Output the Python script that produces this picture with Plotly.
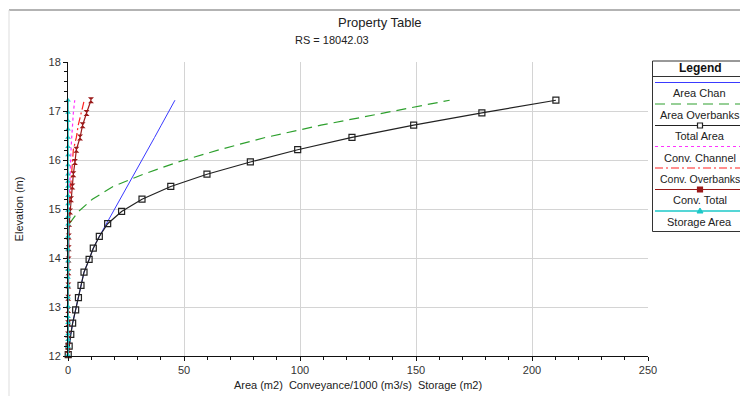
import plotly.graph_objects as go

# ---- data ----
elev = [12.03, 12.2, 12.44, 12.67, 12.94, 13.19, 13.44, 13.71, 13.97, 14.2, 14.44,
        14.7, 14.95, 15.2, 15.46, 15.71, 15.96, 16.21, 16.46, 16.71, 16.96, 17.22]
total_area = [0.1, 0.5, 1.2, 2.0, 3.3, 4.5, 5.6, 6.9, 9.1, 10.9, 13.5,
              17.1, 23.1, 31.9, 44.3, 59.9, 78.6, 99.0, 122.4, 149.0, 178.4, 210.3]
area_chan = [0.1, 0.5, 1.2, 2.0, 3.3, 4.5, 5.6, 6.9, 9.1, 10.9, 13.5,
             16.6, 19.6, 22.5, 25.5, 28.5, 31.4, 34.3, 37.3, 40.2, 43.1, 46.1]
elev_ob = [14.7, 14.95, 15.2, 15.46, 15.71, 15.96, 16.21, 16.46, 16.71, 16.96, 17.22]
area_overbanks = [0.6, 4.5, 10.5, 19.5, 32.5, 47.5, 65.2, 85.1, 109.0, 136.0, 164.5]
conv_channel = [0.0, 0.01, 0.03, 0.05, 0.08, 0.1, 0.15, 0.2, 0.25, 0.3, 0.35,
                0.4, 0.45, 0.55, 0.7, 0.9, 1.1, 1.3, 1.6, 1.9, 2.3, 2.9]
elev_cob = [14.44, 14.7, 14.95, 15.2, 15.46, 15.71, 15.96, 16.21, 16.46, 16.71, 16.96, 17.22]
conv_overbanks = [0.0, 0.1, 0.4, 0.75, 1.2, 1.4, 1.9, 2.3, 3.6, 4.4, 5.7, 7.0]
conv_total = [0.0, 0.01, 0.03, 0.05, 0.08, 0.1, 0.15, 0.2, 0.25, 0.3, 0.35,
              0.5, 0.9, 1.3, 1.9, 2.3, 3.0, 3.6, 5.2, 6.3, 8.0, 9.9]
elev_storage = [12.02, 12.19, 12.33, 12.45, 12.68, 12.80, 13.01, 13.20, 13.43, 13.60,
                13.76, 13.94, 14.18, 14.44, 14.69, 14.84, 14.97, 15.10, 15.27, 15.46,
                15.56, 15.71, 15.90, 16.10, 16.27, 16.46, 16.63, 16.80, 16.97, 17.22]
storage_area = [0.0] * len(elev_storage)

series_names = ["Area Chan", "Area Overbanks", "Total Area", "Conv. Channel",
                "Conv. Overbanks", "Conv. Total", "Storage Area"]

FONT = "Arial, Liberation Sans, sans-serif"
W, H = 740, 396
ML, MR, MT, MB = 68, 92, 62, 40
PW, PH = W - ML - MR, H - MT - MB

C_BLUE = "#3a3aff"
C_GREEN = "#2ea02e"
C_BLACK = "#222222"
C_MAG = "#ff33ff"
C_RED = "#ff2020"
C_DRED = "#9a1a1a"
C_CYAN = "#1cc8c8"

styles = {
    "Area Chan": dict(line=dict(color=C_BLUE, width=1), mode="lines"),
    "Area Overbanks": dict(line=dict(color=C_GREEN, width=1.2, dash="10px,6px"), mode="lines"),
    "Total Area": dict(line=dict(color=C_BLACK, width=1.2), mode="lines+markers",
                       marker=dict(symbol="square-open", size=6, color=C_BLACK, line=dict(width=1.2))),
    "Conv. Channel": dict(line=dict(color=C_MAG, width=1.2, dash="3px,3px"), mode="lines"),
    "Conv. Overbanks": dict(line=dict(color=C_RED, width=1.2, dash="8px,3px,2px,3px"), mode="lines"),
    "Conv. Total": dict(line=dict(color=C_DRED, width=1.2), mode="lines+markers",
                        marker=dict(symbol="hourglass", size=6, color=C_DRED)),
    "Storage Area": dict(line=dict(color=C_CYAN, width=1.5), mode="lines+markers",
                         marker=dict(symbol="triangle-up", size=5, color=C_CYAN)),
}

fig = go.Figure()
data = [
    ("Area Chan", area_chan, elev),
    ("Area Overbanks", area_overbanks, elev_ob),
    ("Total Area", total_area, elev),
    ("Conv. Channel", conv_channel, elev),
    ("Conv. Overbanks", conv_overbanks, elev_cob),
    ("Conv. Total", conv_total, elev),
    ("Storage Area", storage_area, elev_storage),
]
order = ["Area Overbanks", "Area Chan", "Total Area", "Conv. Channel",
         "Conv. Overbanks", "Conv. Total", "Storage Area"]
dd = {n: (x, y) for n, x, y in data}
for n in order:
    x, y = dd[n]
    fig.add_trace(go.Scatter(x=x, y=y, name=n, showlegend=False, cliponaxis=False, **styles[n]))

def px(xp):
    return (xp - ML) / PW

def py(yp):
    return (H - MB - yp) / PH

shapes = []
annotations = []
# outer frame lines
shapes.append(dict(type="line", xref="paper", yref="paper", x0=px(9), x1=px(745), y0=py(10), y1=py(10),
                   line=dict(color="#9a9a9a", width=1.5)))
shapes.append(dict(type="line", xref="paper", yref="paper", x0=px(9), x1=px(9), y0=py(10), y1=py(400),
                   line=dict(color="#dddddd", width=1)))

# legend box
LX0, LX1, LY0, LY1 = 652.5, 760, 61, 231.5
shapes.append(dict(type="rect", xref="paper", yref="paper", x0=px(LX0), x1=px(LX1), y0=py(LY0), y1=py(LY1),
                   line=dict(color="#333333", width=1), fillcolor="white"))
shapes.append(dict(type="line", xref="paper", yref="paper", x0=px(LX0), x1=px(LX1), y0=py(76.5), y1=py(76.5),
                   line=dict(color="#333333", width=1)))
annotations.append(dict(xref="paper", yref="paper", x=px(700), y=py(68.5), text="<b>Legend</b>",
                        showarrow=False, font=dict(family=FONT, size=12, color="#111111"),
                        xanchor="center", yanchor="middle"))
line_y = [82.5, 104, 125.5, 146.5, 168, 189.5, 211]
text_y = [93.5, 114.5, 135.5, 157.5, 178.5, 199.5, 221.5]
for i, n in enumerate(series_names):
    st = styles[n]
    ln = dict(st["line"])
    shapes.append(dict(type="line", xref="paper", yref="paper", x0=px(655), x1=px(745),
                       y0=py(line_y[i]), y1=py(line_y[i]),
                       line=dict(color=ln["color"], width=ln.get("width", 1), dash=ln.get("dash", "solid"))))
    fs = 10.5 if len(n) > 14 else 11
    annotations.append(dict(xref="paper", yref="paper", x=px(699.5), y=py(text_y[i]), text=n,
                            showarrow=False, font=dict(family=FONT, size=fs, color="#222222"),
                            xanchor="center", yanchor="middle"))

# legend marker glyphs
def rect_px(cx, cy, half, line_color, fill):
    shapes.append(dict(type="rect", xref="paper", yref="paper",
                       x0=px(cx - half), x1=px(cx + half), y0=py(cy - half), y1=py(cy + half),
                       line=dict(color=line_color, width=1.2), fillcolor=fill))

rect_px(700, line_y[2], 2.5, C_BLACK, "white")
rect_px(700, line_y[5], 2.5, C_DRED, C_DRED)
tri = "M {} {} L {} {} L {} {} Z".format(px(697), py(line_y[6] + 2), px(703), py(line_y[6] + 2),
                                         px(700), py(line_y[6] - 3))
shapes.append(dict(type="path", xref="paper", yref="paper", path=tri,
                   line=dict(color=C_CYAN, width=1), fillcolor=C_CYAN))

annotations.append(dict(xref="paper", yref="paper", x=px(380), y=py(23), text="Property Table",
                        showarrow=False, font=dict(family=FONT, size=13, color="#222222"),
                        xanchor="center", yanchor="middle"))
annotations.append(dict(xref="paper", yref="paper", x=px(332), y=py(40), text="RS = 18042.03",
                        showarrow=False, font=dict(family=FONT, size=11, color="#222222"),
                        xanchor="center", yanchor="middle"))

fig.update_layout(
    width=W, height=H,
    margin=dict(l=ML, r=MR, t=MT, b=MB, pad=0),
    paper_bgcolor="white", plot_bgcolor="white",
    font=dict(family=FONT, size=11, color="#333333"),
    showlegend=False,
    shapes=shapes, annotations=annotations,
    xaxis=dict(range=[0, 250], dtick=50, tick0=0, showgrid=True, gridcolor="#d4d4d4", gridwidth=1,
               showline=True, linecolor="#111111", linewidth=1, zeroline=False, automargin=False,
               ticks="outside", ticklen=4, tickcolor="#111111",
               minor=dict(dtick=10, ticks="outside", ticklen=3, tickcolor="#111111", showgrid=False),
               title=dict(text="Area (m2)  Conveyance/1000 (m3/s)  Storage (m2)",
                          font=dict(family=FONT, size=11, color="#222222"), standoff=6),
               tickfont=dict(family=FONT, size=11, color="#333333")),
    yaxis=dict(range=[12, 18], dtick=1, tick0=12, showgrid=True, gridcolor="#d4d4d4", gridwidth=1,
               showline=True, linecolor="#111111", linewidth=1, zeroline=False, automargin=False,
               ticks="outside", ticklen=4, tickcolor="#111111",
               minor=dict(dtick=0.2, ticks="outside", ticklen=3, tickcolor="#111111", showgrid=False),
               title=dict(text="Elevation (m)", font=dict(family=FONT, size=11, color="#222222"), standoff=22),
               tickfont=dict(family=FONT, size=11, color="#333333")),
)

fig.write_html("out.html", config={"displayModeBar": False},
               post_script="document.body.style.margin='0';document.body.style.overflow='hidden';")
